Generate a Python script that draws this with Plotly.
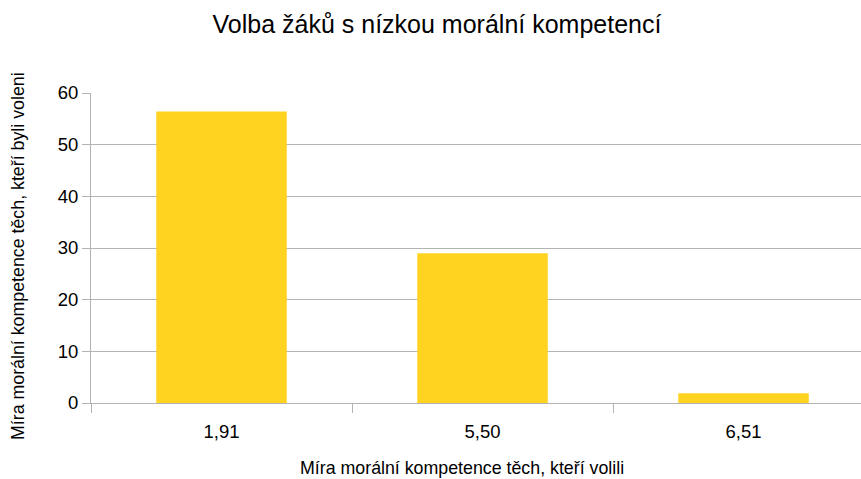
import plotly.graph_objects as go

categories = ["1,91", "5,50", "6,51"]
values = [56.4, 29.0, 1.9]
y_ticks = [0, 10, 20, 30, 40, 50, 60]

title_text = "Volba žáků s nízkou morální kompetencí"
x_title = "Míra morální kompetence těch, kteří volili"
y_title = "Míra morální kompetence těch, kteří byli voleni"

FONT = "Liberation Sans, Arial, sans-serif"
GRID = "#b3b3b3"

fig = go.Figure()
fig.add_trace(go.Bar(x=categories, y=values, width=0.5,
                     marker=dict(color="#ffd320", line=dict(width=0))))

fig.update_layout(
    width=861, height=479,
    margin=dict(l=91, r=0, t=93, b=76, autoexpand=False),
    paper_bgcolor="white", plot_bgcolor="white",
    font=dict(family=FONT, color="black"),
    showlegend=False,
    title=dict(text=title_text, x=437/861, xref="container", xanchor="center",
               y=1-24/479, yref="container", yanchor="middle",
               font=dict(size=25, family=FONT, color="black")),
    annotations=[
        dict(text=x_title, xref="paper", yref="paper", x=(462-91)/770, y=(403-468)/310,
             xanchor="center", yanchor="middle", showarrow=False,
             font=dict(size=17.8, family=FONT, color="black")),
        dict(text=y_title, xref="paper", yref="paper", x=(18-91)/770, y=(403-256)/310,
             xanchor="center", yanchor="middle", showarrow=False, textangle=-90,
             font=dict(size=17.8, family=FONT, color="black")),
    ],
)

fig.update_xaxes(type="category", range=[-0.5, 2.45], tickson="boundaries",
                 ticks="outside", ticklen=9, tickcolor=GRID, tickwidth=1,
                 showline=True, linecolor=GRID, linewidth=1,
                 showgrid=False, zeroline=False, automargin=False,
                 ticklabelstandoff=12,
                 tickfont=dict(size=18.5, family=FONT, color="black"))
fig.update_yaxes(range=[0, 60], tickvals=y_ticks, ticks="outside", ticklen=8,
                 tickcolor=GRID, tickwidth=1, showline=True, linecolor=GRID, linewidth=1,
                 showgrid=True, gridcolor=GRID, gridwidth=1, zeroline=False, automargin=False,
                 tickfont=dict(size=18.5, family=FONT, color="black"))

fig.write_html("out.html", config={"displayModeBar": False},
               post_script="document.body.style.margin='0';document.body.style.overflow='hidden';")
